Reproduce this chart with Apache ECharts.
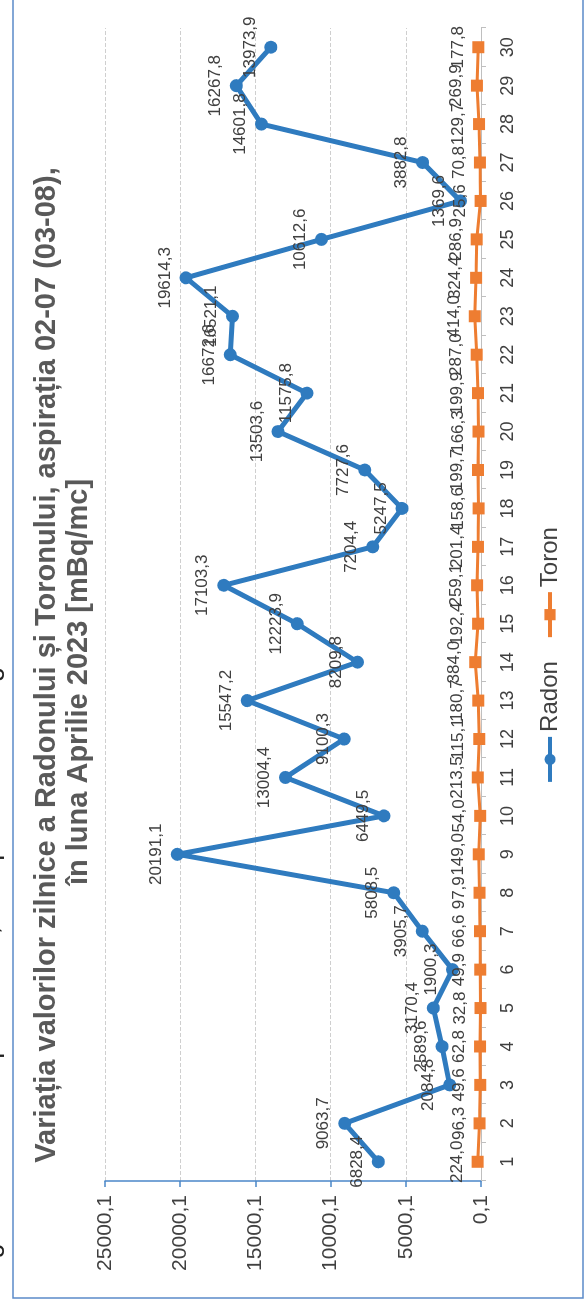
<!DOCTYPE html>
<html>
<head>
<meta charset="utf-8">
<script src="https://cdn.jsdelivr.net/npm/echarts@6/dist/echarts.min.js"></script>
<style>
  html, body { margin: 0; padding: 0; background: #ffffff; }
  #wrap { position: absolute; left: 0; top: 0; width: 586px; height: 1311px; overflow: hidden; background: #ffffff; }
  #chart { position: absolute; left: 0; top: 0; width: 1311px; height: 586px;
           transform-origin: 0 0; transform: translateY(1311px) rotate(-90deg); }
</style>
</head>
<body>
<div id="wrap"><div id="chart"></div></div>
<script>
const days = ['1','2','3','4','5','6','7','8','9','10','11','12','13','14','15','16','17','18','19','20','21','22','23','24','25','26','27','28','29','30'];
const radon = [6828.4, 9063.7, 2084.8, 2589.6, 3170.4, 1900.3, 3905.7, 5808.5, 20191.1, 6449.5,
               13004.4, 9100.3, 15547.2, 8209.8, 12223.9, 17103.3, 7204.4, 5247.5, 7727.6, 13503.6,
               11575.8, 16672.6, 16521.1, 19614.3, 10612.6, 1369.6, 3882.8, 14601.8, 16267.8, 13973.9];
const toron = [224.0, 96.3, 49.6, 62.8, 32.8, 49.9, 66.6, 97.9, 149.0, 54.0,
               213.5, 115.1, 180.7, 384.0, 192.4, 259.1, 201.4, 158.6, 199.7, 166.3,
               199.9, 287.0, 414.0, 324.4, 286.9, 25.6, 70.8, 129.7, 269.9, 177.8];
const titleLine1 = 'Variația valorilor zilnice a Radonului și Toronului, aspirația 02-07 (03-08),';
const titleLine2 = 'în luna Aprilie 2023 [mBq/mc]';
const pageText = 'înregistrată în luna aprilie 2023, este prezentată în figura';
const valueMin = 0, valueMax = 25000, valueStep = 5000;

const fmt = v => v.toFixed(1).replace('.', ',');

const chart = echarts.init(document.getElementById('chart'), null, { renderer: 'canvas' });
chart.setOption({
  animation: false,
  backgroundColor: '#ffffff',
  textStyle: { fontFamily: 'Liberation Sans, Arial, sans-serif' },
  graphic: [
    { type: 'rect', shape: { x: 13, y: 13, width: 1310, height: 570 },
      style: { fill: 'none', stroke: '#5b8bc9', lineWidth: 1.5 }, silent: true },
    { type: 'text', x: 6, y: 4, silent: true,
      style: { text: pageText, fontSize: 27, fill: '#222222', textVerticalAlign: 'bottom',
               fontFamily: 'Liberation Sans, Arial, sans-serif' } },
    { type: 'text', x: 646, y: 47, silent: true,
      style: { text: titleLine1, fontSize: 29, fontWeight: 'bold', fill: '#595959',
               textAlign: 'center', textVerticalAlign: 'middle',
               fontFamily: 'Liberation Sans, Arial, sans-serif' } },
    { type: 'text', x: 629, y: 79, silent: true,
      style: { text: titleLine2, fontSize: 29, fontWeight: 'bold', fill: '#595959',
               textAlign: 'center', textVerticalAlign: 'middle',
               fontFamily: 'Liberation Sans, Arial, sans-serif' } }
  ],
  legend: {
    data: ['Radon', 'Toron'],
    top: 533, left: 'center',
    itemWidth: 45, itemHeight: 14, itemGap: 22,
    lineStyle: { width: 4 },
    textStyle: { fontSize: 24, color: '#404040' }
  },
  grid: { left: 130, right: 28, top: 105, bottom: 105, containLabel: false },
  xAxis: {
    type: 'category', data: days, boundaryGap: true,
    axisLine: { show: true, lineStyle: { color: '#bfbfbf', width: 1 } },
    axisTick: { show: true, lineStyle: { color: '#bfbfbf' }, length: 5 },
    axisLabel: { fontSize: 18, color: '#404040', margin: 18, interval: 0 }
  },
  yAxis: {
    type: 'value', min: valueMin, max: valueMax, interval: valueStep,
    axisLine: { show: true, lineStyle: { color: '#4a86c8', width: 1.5 } },
    axisTick: { show: true, length: 6, lineStyle: { color: '#4a86c8', width: 1.5 } },
    axisLabel: { fontSize: 21, color: '#404040', margin: 14, formatter: v => v + ',1' },
    splitLine: { show: true, lineStyle: { color: '#cfcfcf', width: 1, type: 'dashed' } }
  },
  series: [
    { name: 'Radon', type: 'line', data: radon,
      symbol: 'circle', symbolSize: 13,
      itemStyle: { color: '#2f7bbf' },
      lineStyle: { color: '#2f7bbf', width: 5 },
      label: { show: true, position: 'top', distance: 6, fontSize: 17, color: '#404040',
               formatter: p => fmt(p.value) } },
    { name: 'Toron', type: 'line', data: toron,
      symbol: 'rect', symbolSize: 12,
      itemStyle: { color: '#ee7d31' },
      lineStyle: { color: '#ee7d31', width: 3 },
      label: { show: true, position: 'top', distance: 6, fontSize: 17, color: '#404040',
               formatter: p => fmt(p.value) } }
  ]
});
</script>
</body>
</html>
